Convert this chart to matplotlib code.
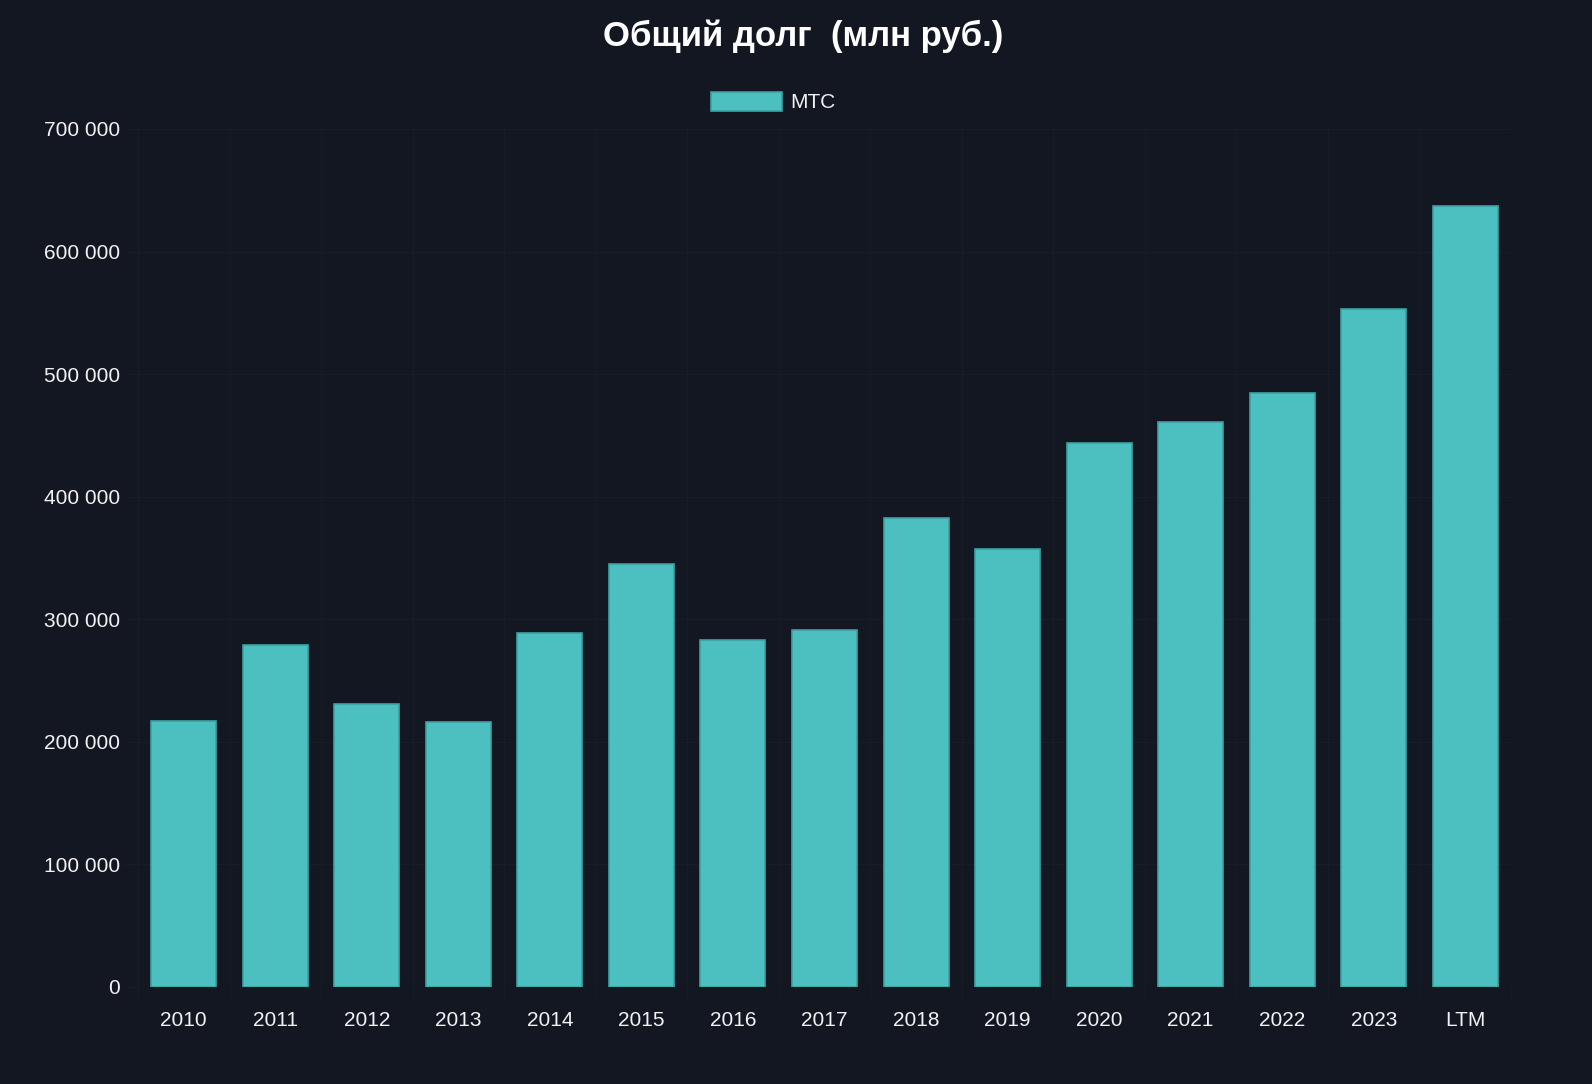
import matplotlib
matplotlib.use("Agg")
import matplotlib.pyplot as plt
from matplotlib.patches import Patch
from matplotlib.ticker import FuncFormatter, MultipleLocator

# data (млн руб.)
years = ["2010", "2011", "2012", "2013", "2014", "2015", "2016", "2017",
         "2018", "2019", "2020", "2021", "2022", "2023", "LTM"]
debt = [217000, 279000, 231000, 216000, 289000, 345000, 283000, 291000,
        383000, 357000, 444000, 461000, 485000, 553000, 637000]
series_name = "МТС"
title = "Общий долг  (млн руб.)"

bg = "#131722"
teal = "#4cc0c1"
teal_edge = "#3aa3a4"
grid_col = "#181c27"
txt = "#f2f2f2"

plt.rcParams['font.family'] = ['Liberation Sans', 'DejaVu Sans']

fig = plt.figure(figsize=(15.92, 10.84), dpi=100, facecolor=bg)
ax = fig.add_axes([138/1592, 1 - 987/1084, (1511-138)/1592, (987-129)/1084])
ax.set_facecolor(bg)

x = range(len(years))
ax.bar(x, debt, width=0.71, color=teal, edgecolor=teal_edge, linewidth=1.2, zorder=3)

ax.set_xlim(-0.5, len(years) - 0.5)
ax.set_ylim(0, 700000)
ax.yaxis.set_major_locator(MultipleLocator(100000))
ax.yaxis.set_major_formatter(FuncFormatter(lambda v, p: f"{int(v):,}".replace(",", " ")))
ax.set_xticks(list(x))
ax.set_xticklabels(years)

# grid between categories (offset grid) and at every y tick
ax.set_xticks([i - 0.5 for i in range(len(years) + 1)], minor=True)
ax.grid(which="minor", axis="x", color=grid_col, linewidth=1, zorder=0)
ax.grid(which="major", axis="y", color=grid_col, linewidth=1, zorder=0)

ax.tick_params(axis="x", which="major", length=0, pad=17, labelsize=15, labelcolor=txt)
ax.tick_params(axis="x", which="minor", length=10, color=grid_col)
ax.tick_params(axis="y", length=10, color=grid_col, pad=3, labelsize=15, labelcolor=txt)
for s in ax.spines.values():
    s.set_visible(False)

fig.text(803/1592, 1 - 36/1084, title, ha="center", va="center",
         fontsize=25, fontweight="bold", color="white")

handle = Patch(facecolor=teal, edgecolor=teal_edge, linewidth=1.2)
fig.legend([handle], [series_name], loc="center", bbox_to_anchor=(773/1592, 1 - 102/1084),
           frameon=False, fontsize=15, labelcolor=txt, handlelength=3.4,
           handleheight=1.05, handletextpad=0.4)

fig.savefig("out.png", dpi=100, facecolor=bg)
